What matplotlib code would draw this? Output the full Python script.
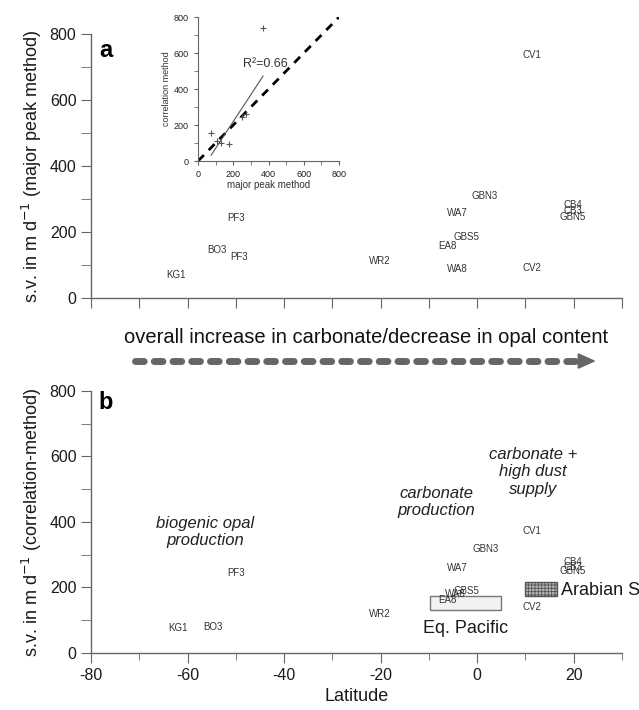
import matplotlib.pyplot as plt
from matplotlib.lines import Line2D
from matplotlib.patches import Rectangle, Polygon
from matplotlib.ticker import MultipleLocator

plt.rcParams['font.family'] = ['Liberation Sans', 'DejaVu Sans']
plt.rcParams['axes.unicode_minus'] = False
plt.rcParams['hatch.color'] = '#7a7a7a'
plt.rcParams['hatch.linewidth'] = 0.6

# panel a: major peak method
sites_a = ['KG1', 'BO3', 'PF3', 'PF3', 'WR2', 'EA8', 'GBS5', 'WA7', 'WA8', 'GBN3',
           'CV1', 'CV2', 'CB4', 'CB3', 'GBN5']
lat_a = [-62.4, -53.9, -50.0, -49.4, -20.2, -6.1, -2.2, -4.2, -4.2, 1.6,
         11.3, 11.3, 19.8, 19.8, 19.8]
sv_a = [70, 145, 242, 124, 112, 158, 185, 257, 88, 309, 736, 91, 282, 264, 245]

# panel b: correlation method
sites_b = ['KG1', 'BO3', 'PF3', 'WR2', 'EA8', 'WA8', 'GBS5', 'WA7', 'GBN3',
           'CV1', 'CV2', 'CB4', 'CB3', 'GBN5']
lat_b = [-62.0, -54.7, -50.0, -20.2, -6.1, -4.6, -2.2, -4.2, 1.8,
         11.3, 11.3, 19.8, 19.8, 19.8]
sv_b = [76, 79, 244, 119, 162, 180, 189, 260, 318, 372, 140, 278, 264, 250]

# inset: correlation vs major peak
major = [74, 110, 130, 176, 250, 270, 369]
corr = [154, 110, 100, 94, 245, 262, 739]
reg_x = [74, 369]
reg_y = [32, 472]

# boxes in panel b (lat range, sv range)
eqpac_lat = [-9.8, 4.9]
eqpac_sv = [131, 174]
arab_lat = [10.0, 16.5]
arab_sv = [174, 217]

txt = '#333333'
spine = '#666666'

fig = plt.figure(figsize=(6.39, 7.10), dpi=100)


def style(ax):
    ax.set_xlim(-80, 30)
    ax.set_ylim(0, 800)
    for s in ['top', 'right']:
        ax.spines[s].set_visible(False)
    for s in ['left', 'bottom']:
        ax.spines[s].set_color(spine)
        ax.spines[s].set_linewidth(1.0)
    ax.yaxis.set_major_locator(MultipleLocator(200))
    ax.yaxis.set_minor_locator(MultipleLocator(100))
    ax.tick_params(which='both', colors=spine, labelcolor='#1a1a1a', labelsize=11.5)
    ax.tick_params(which='major', length=7)
    ax.tick_params(which='minor', length=5)
    ax.tick_params(axis='y', which='minor', length=7)
    ax.patch.set_alpha(0)


# ---- panel a
ax1 = fig.add_axes([0.1424, 0.5803, 0.831, 0.3718])
style(ax1)
ax1.xaxis.set_major_locator(MultipleLocator(10))
ax1.tick_params(axis='x', labelbottom=False, length=7)
for s, x, y in zip(sites_a, lat_a, sv_a):
    ax1.text(x, y, s, ha='center', va='center', fontsize=7, color=txt)
ax1.set_ylabel('s.v. in m d$^{-1}$ (major peak method)', fontsize=13, color='#1a1a1a', labelpad=4)
ax1.text(0.015, 0.98, 'a', transform=ax1.transAxes, fontsize=17, fontweight='bold',
         va='top', ha='left')

# inset
ins = fig.add_axes([0.3099, 0.7732, 0.2207, 0.2028])
ins.set_xlim(0, 800)
ins.set_ylim(0, 800)
for s in ['top', 'right']:
    ins.spines[s].set_visible(False)
for s in ['left', 'bottom']:
    ins.spines[s].set_color(spine)
    ins.spines[s].set_linewidth(0.8)
ins.xaxis.set_major_locator(MultipleLocator(200))
ins.xaxis.set_minor_locator(MultipleLocator(100))
ins.yaxis.set_major_locator(MultipleLocator(200))
ins.yaxis.set_minor_locator(MultipleLocator(100))
ins.tick_params(which='both', colors=spine, labelcolor='#222222', labelsize=6.5, length=3)
ins.patch.set_alpha(0)
ins.plot([0, 800], [0, 800], color='black', lw=2, dashes=(3, 2.5))
ins.plot(reg_x, reg_y, color='#555555', lw=0.8)
ins.plot(major, corr, '+', color='#555555', ms=5, mew=0.8)
ins.text(380, 539, 'R²=0.66', fontsize=9, color='#333333', ha='center', va='center')
ins.set_xlabel('major peak method', fontsize=7, color='#333333', labelpad=1)
ins.set_ylabel('correlation method', fontsize=6.5, color='#333333', labelpad=2)

# ---- trend arrow between panels
fig.text(0.573, 0.524, 'overall increase in carbonate/decrease in opal content',
         fontsize=14.5, ha='center', va='center', color='#111111')
fig.add_artist(Line2D([0.212, 0.905], [0.4915, 0.4915], transform=fig.transFigure,
                      color='#666666', lw=5, dashes=(1.25, 1.45),
                      solid_capstyle='round', dash_capstyle='round'))
fig.add_artist(Polygon([[0.905, 0.5015], [0.930, 0.4915], [0.905, 0.4815]], closed=True,
                       transform=fig.transFigure, color='#666666'))

# ---- panel b
ax2 = fig.add_axes([0.1424, 0.0803, 0.831, 0.369])
style(ax2)
ax2.set_xticks([-80, -60, -40, -20, 0, 20])
ax2.set_xticks([-70, -50, -30, -10, 10, 30], minor=True)
for s, x, y in zip(sites_b, lat_b, sv_b):
    ax2.text(x, y, s, ha='center', va='center', fontsize=7, color=txt)
ax2.add_patch(Rectangle((eqpac_lat[0], eqpac_sv[0]), eqpac_lat[1] - eqpac_lat[0],
                        eqpac_sv[1] - eqpac_sv[0], facecolor='#f2f2f2',
                        edgecolor='#777777', lw=1, zorder=0))
ax2.add_patch(Rectangle((arab_lat[0], arab_sv[0]), arab_lat[1] - arab_lat[0],
                        arab_sv[1] - arab_sv[0], facecolor='#b4b4b4',
                        edgecolor='#555555', lw=1, hatch='+++++', zorder=0))
ax2.text(-2.4, 76, 'Eq. Pacific', fontsize=13, ha='center', va='center', color='#1a1a1a')
ax2.text(17.3, 192, 'Arabian S', fontsize=13, ha='left', va='center', color='#1a1a1a',
         clip_on=False)
ax2.text(-56.4, 369, 'biogenic opal\nproduction', fontsize=12, style='italic',
         ha='center', va='center', color='#222222', linespacing=1.2)
ax2.text(-8.4, 461, 'carbonate\nproduction', fontsize=12, style='italic',
         ha='center', va='center', color='#222222', linespacing=1.2)
ax2.text(11.5, 553, 'carbonate +\nhigh dust\nsupply', fontsize=12, style='italic',
         ha='center', va='center', color='#222222', linespacing=1.2)
ax2.set_ylabel('s.v. in m d$^{-1}$ (correlation-method)', fontsize=13, color='#1a1a1a',
               labelpad=4)
ax2.set_xlabel('Latitude', fontsize=13, color='#1a1a1a', labelpad=4)
ax2.text(0.015, 1.0, 'b', transform=ax2.transAxes, fontsize=17, fontweight='bold',
         va='top', ha='left')

fig.savefig('out.png', dpi=100)
